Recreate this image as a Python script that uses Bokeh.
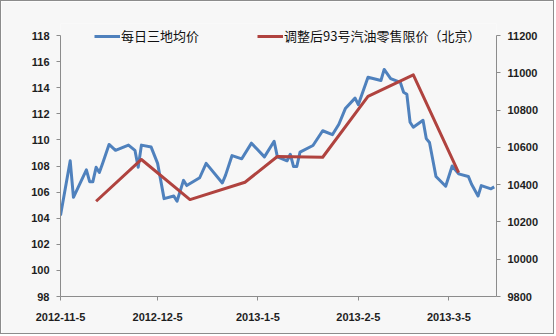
from bokeh.plotting import figure
from bokeh.models import (Range1d, LinearAxis, FixedTicker, CustomJSTickFormatter,
                          Legend, LegendItem)
from bokeh.embed import file_html
from bokeh.resources import INLINE
import pandas as pd

# ---- data ----
blue_dates = ["2012-11-05", "2012-11-08", "2012-11-09", "2012-11-13", "2012-11-14", "2012-11-15",
              "2012-11-16", "2012-11-17", "2012-11-18", "2012-11-20", "2012-11-22", "2012-11-26",
              "2012-11-28", "2012-11-29", "2012-11-30", "2012-12-03", "2012-12-05", "2012-12-07",
              "2012-12-10", "2012-12-11", "2012-12-13", "2012-12-14", "2012-12-18", "2012-12-20",
              "2012-12-25", "2012-12-26", "2012-12-28", "2012-12-31", "2013-01-03", "2013-01-07",
              "2013-01-10", "2013-01-11", "2013-01-14", "2013-01-15", "2013-01-16", "2013-01-17",
              "2013-01-18", "2013-01-22", "2013-01-25", "2013-01-28", "2013-01-30", "2013-02-01",
              "2013-02-04", "2013-02-05", "2013-02-08", "2013-02-12", "2013-02-13", "2013-02-15",
              "2013-02-18", "2013-02-19", "2013-02-20", "2013-02-21", "2013-02-22", "2013-02-25",
              "2013-02-26", "2013-02-27", "2013-03-01", "2013-03-04", "2013-03-06", "2013-03-08",
              "2013-03-11", "2013-03-12", "2013-03-14", "2013-03-15", "2013-03-18", "2013-03-19"]
blue_values = [104.2, 108.4, 105.6, 107.7, 106.8, 106.8,
               107.9, 107.5, 108.2, 109.65, 109.2, 109.6,
               109.2, 107.9, 109.6, 109.45, 108.2, 105.5,
               105.7, 105.3, 106.9, 106.5, 107.1, 108.2,
               106.7, 107.3, 108.8, 108.55, 109.75, 108.7,
               109.9, 108.7, 108.4, 108.9, 107.96, 107.96,
               109.06, 109.57, 110.7, 110.4, 111.2, 112.4,
               113.2, 112.7, 114.8, 114.55, 115.4, 114.7,
               114.4, 113.65, 113.5, 111.35, 110.97, 111.5,
               110.1, 109.8, 107.2, 106.45, 108.0, 107.4,
               107.2, 106.6, 105.7, 106.5, 106.25, 106.4]

red_dates = ["2012-11-16", "2012-11-30", "2012-12-15", "2013-01-01", "2013-01-11",
             "2013-01-25", "2013-02-08", "2013-02-22", "2013-03-08"]
red_values = [10311, 10535, 10320, 10413, 10551, 10547, 10874, 10989, 10465]

x_tick_dates = ["2012-11-05", "2012-12-05", "2013-01-05", "2013-02-05", "2013-03-05"]
left_ticks = [98, 100, 102, 104, 106, 108, 110, 112, 114, 116, 118]
right_ticks = [9800, 10000, 10200, 10400, 10600, 10800, 11000, 11200]

blue_name = "每日三地均价"
red_name = "调整后93号汽油零售限价（北京）"

# ---- figure ----
bx = pd.to_datetime(blue_dates)
rx = pd.to_datetime(red_dates)
x0 = pd.Timestamp("2012-11-05")
x1 = x0 + pd.Timedelta(days=134.7)

# frame extends 12px above the top tick so the legend is not clipped;
# the axis lines are bounded to the tick range.
ly0, ly1 = left_ticks[0], left_ticks[-1]
ry0, ry1 = right_ticks[0], right_ticks[-1]
pad_px, span_px = 12, 261
ly_top = ly1 + (ly1 - ly0) * pad_px / span_px
ry_top = ry1 + (ry1 - ry0) * pad_px / span_px

bg = "#f7f7f7"
p = figure(width=554, height=334, x_axis_type="datetime",
           x_range=Range1d(x0, x1), y_range=Range1d(ly0, ly_top),
           output_backend="svg", toolbar_location=None,
           min_border_left=59, min_border_right=59, min_border_top=34 - pad_px,
           min_border_bottom=39,
           background_fill_color=bg, border_fill_color=bg,
           styles={"border": "1px solid #8c8c8c"})
p.outline_line_color = None
p.grid.visible = False
p.extra_y_ranges = {"r": Range1d(ry0, ry_top)}

lbl_font = "Liberation Sans"
axis_col = "#8c8c8c"
text_col = "#1e1e1e"

def style_axis(ax):
    ax.axis_line_color = axis_col
    ax.major_tick_line_color = axis_col
    ax.minor_tick_line_color = None
    ax.major_tick_out = 4
    ax.major_tick_in = 0
    ax.major_label_text_font = lbl_font
    ax.major_label_text_font_style = "bold"
    ax.major_label_text_font_size = "11px"
    ax.major_label_text_color = text_col

xa = p.xaxis[0]
style_axis(xa)
xa.ticker = FixedTicker(ticks=[pd.Timestamp(d).value / 1e6 for d in x_tick_dates])
xa.formatter = CustomJSTickFormatter(code="""
const d = new Date(tick);
return d.getUTCFullYear() + "-" + (d.getUTCMonth() + 1) + "-" + d.getUTCDate();
""")
xa.major_label_standoff = 12

ya = p.yaxis[0]
style_axis(ya)
ya.ticker = FixedTicker(ticks=left_ticks)
ya.bounds = (ly0, ly1)
ya.major_label_standoff = 7

ra = LinearAxis(y_range_name="r", ticker=FixedTicker(ticks=right_ticks), bounds=(ry0, ry1))
style_axis(ra)
ra.major_label_standoff = 7
p.add_layout(ra, "right")

rb = p.line(bx, blue_values, line_color="#4f81bd", line_width=3, line_join="round")
rr = p.line(rx, red_values, y_range_name="r", line_color="#b0433f", line_width=3, line_join="round")

legend = Legend(items=[LegendItem(label=blue_name, renderers=[rb]),
                       LegendItem(label=red_name, renderers=[rr])],
                orientation="horizontal", location=(34, 251),
                background_fill_alpha=0, border_line_color=None,
                glyph_width=26, glyph_height=12, label_standoff=1, spacing=58,
                padding=0, margin=0,
                label_text_font="Noto Sans CJK SC", label_text_font_size="13px",
                label_text_color="#111111")
p.add_layout(legend, "center")

open("out.html", "w").write(file_html(p, INLINE))
